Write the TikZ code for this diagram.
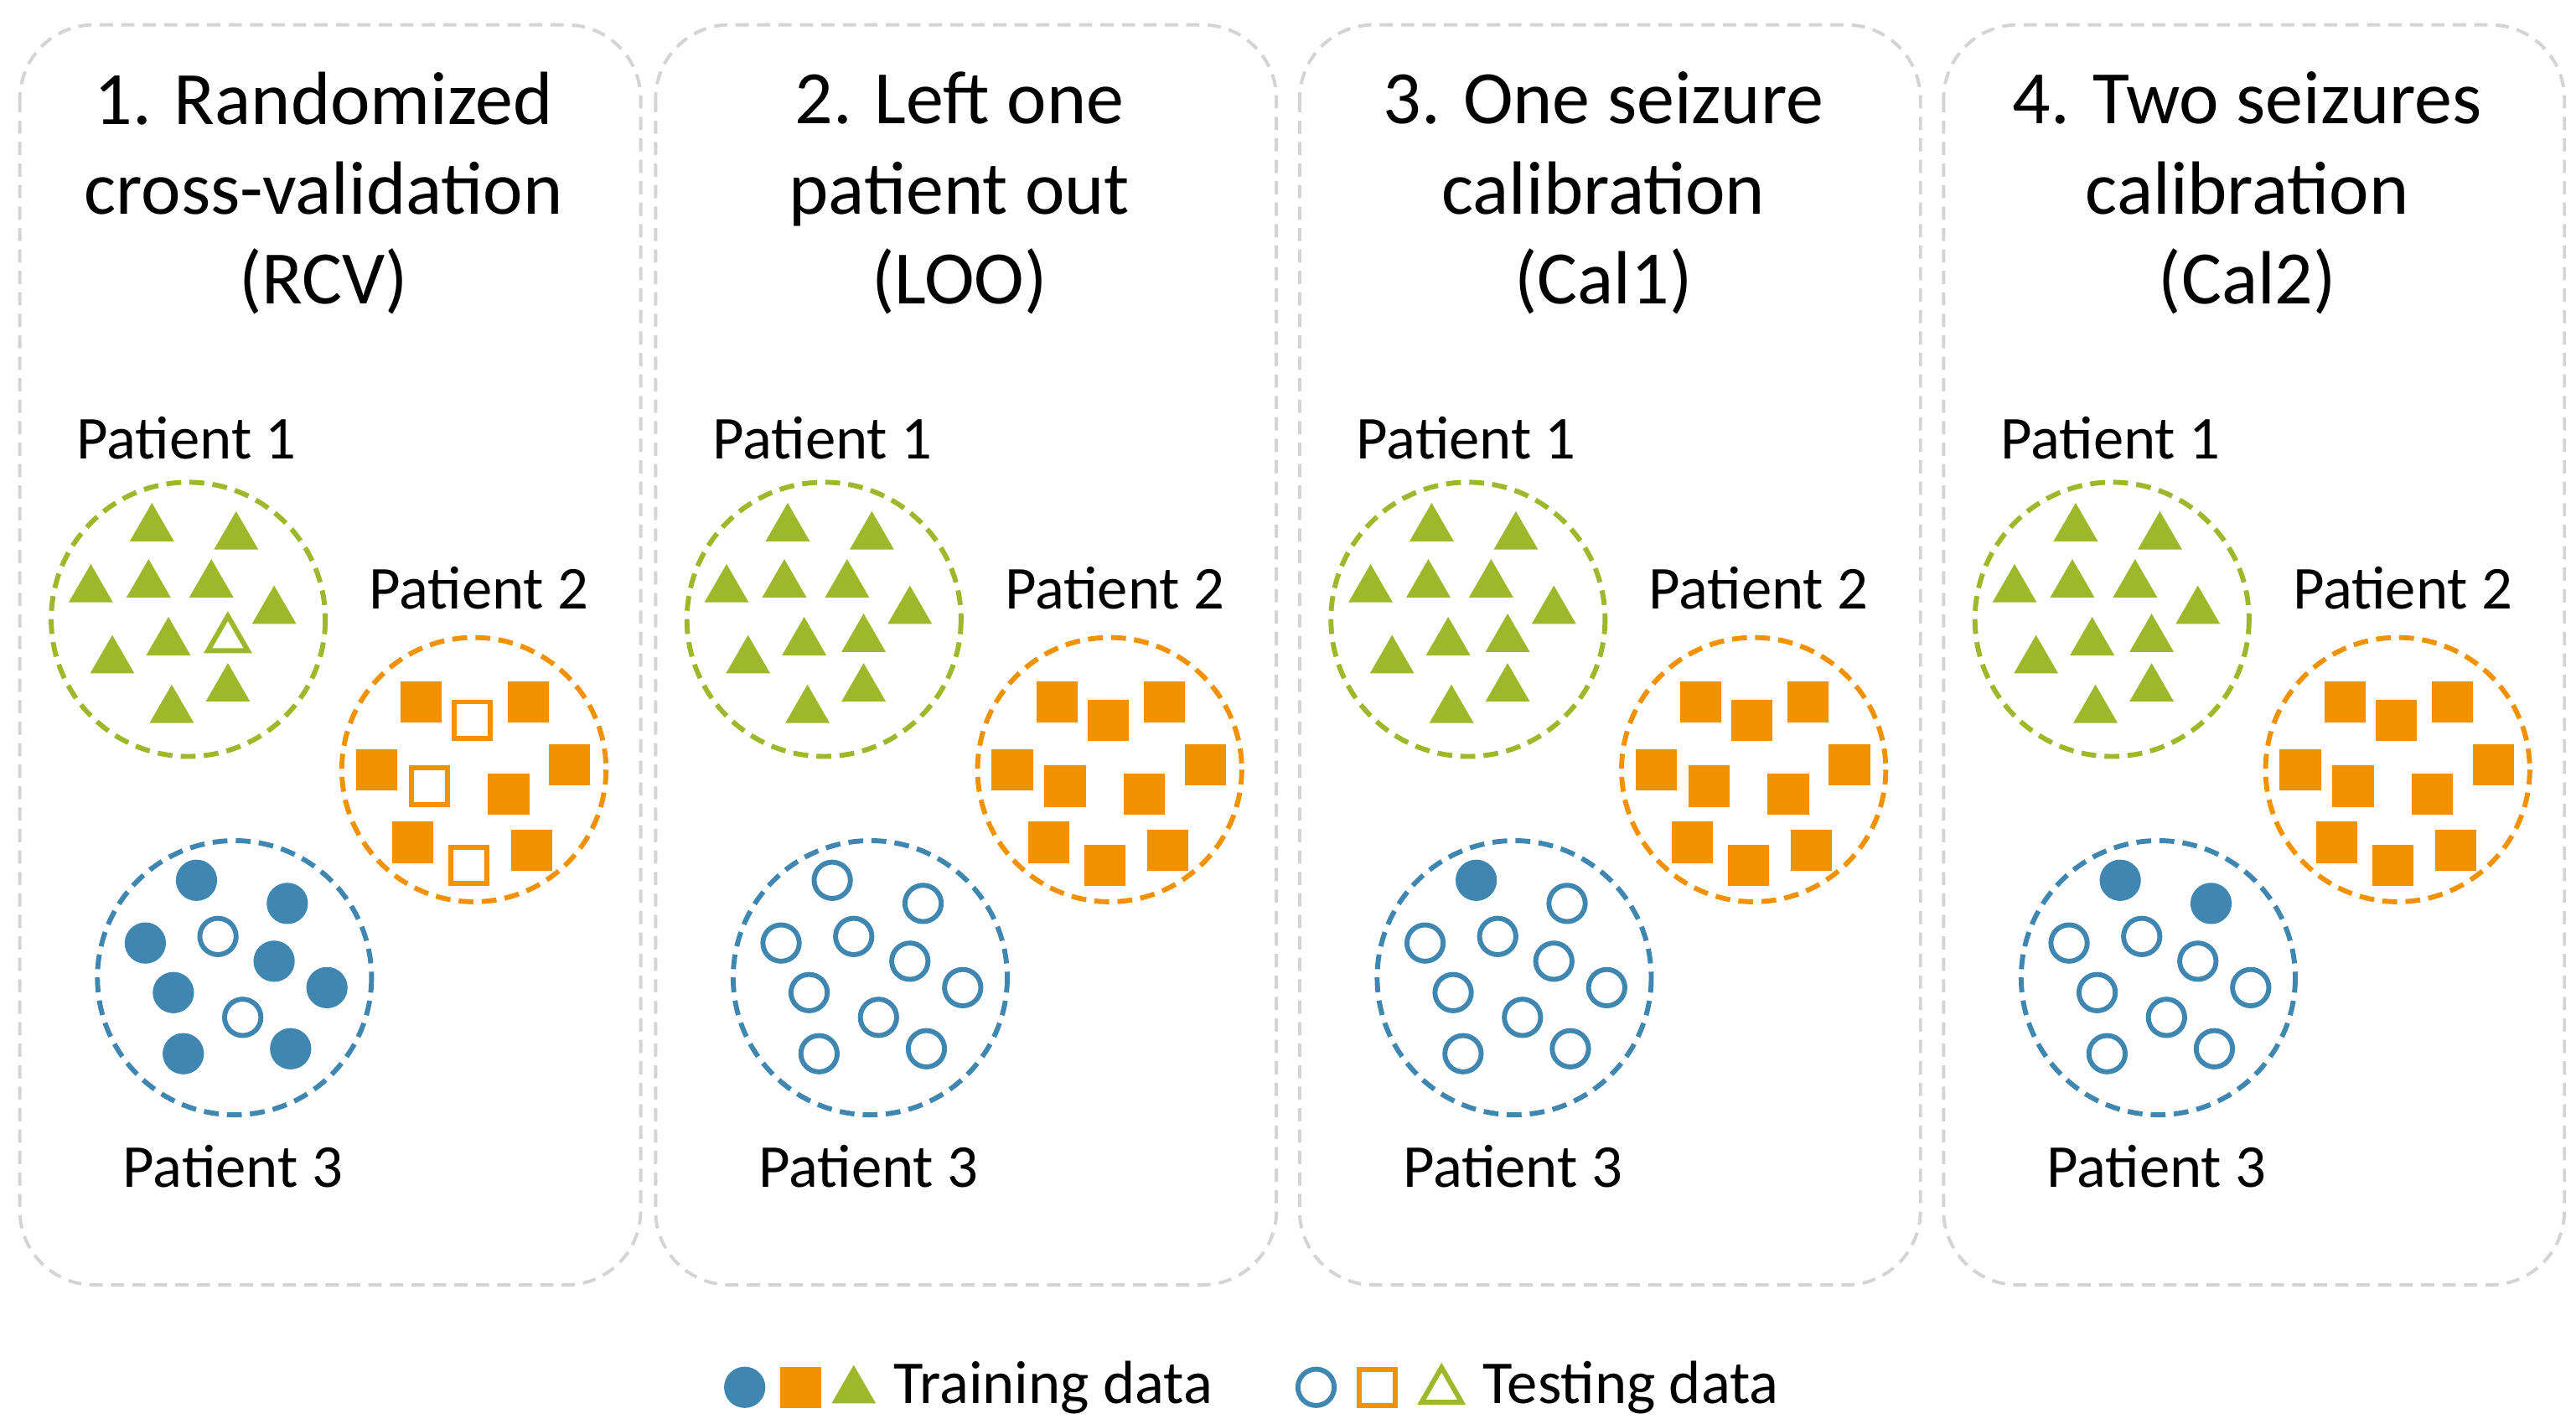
\documentclass[tikz,border=0pt]{standalone}
\usepackage{fontspec}
\setmainfont{Carlito}
\usetikzlibrary{shapes.geometric}
\definecolor{cg}{HTML}{9DB82B}
\definecolor{co}{HTML}{F39200}
\definecolor{cb}{HTML}{3F87B1}
\definecolor{cp}{HTML}{D4D4D4}
\begin{document}
\begin{tikzpicture}[x=0.02cm,y=-0.02cm,
 panel/.style={draw=cp,line width=0.04cm,dash pattern=on 0.16cm off 0.1cm,rounded corners=0.9cm},
 grp/.style={draw=#1,line width=0.06cm,dash pattern=on 0.18cm off 0.1cm},
 title/.style={font=\fontsize{26}{31}\selectfont,align=center},
 plab/.style={font=\fontsize{21}{25}\selectfont},
 triF/.style={regular polygon,regular polygon sides=3,fill=cg,minimum size=0.62cm,inner sep=0},
 triH/.style={regular polygon,regular polygon sides=3,draw=cg,line width=0.06cm,minimum size=0.56cm,inner sep=0},
 sqF/.style={rectangle,fill=co,minimum size=0.5cm,inner sep=0},
 sqH/.style={rectangle,draw=co,line width=0.06cm,minimum size=0.44cm,inner sep=0},
 ciF/.style={circle,fill=cb,minimum size=0.5cm,inner sep=0},
 ciH/.style={circle,draw=cb,line width=0.06cm,minimum size=0.44cm,inner sep=0}]
\useasboundingbox (0,0) rectangle (1560,862);
\foreach \p/\ox/\t/\sA/\sB/\sC/\sT/\sS in {
 1/0/{1. Randomized\\cross-validation\\(RCV)}/ciF/ciF/ciF/triH/sqH,
 2/385/{2. Left one\\patient out\\(LOO)}/ciH/ciH/ciH/triF/sqF,
 3/775/{3. One seizure\\calibration\\(Cal1)}/ciF/ciH/ciH/triF/sqF,
 4/1165/{4. Two seizures\\calibration\\(Cal2)}/ciF/ciF/ciH/triF/sqF}{
 \begin{scope}[xshift=\ox*0.02cm]
 \draw[panel] (12,15) rectangle (388,778);
 \node[title] (t\p) at (196,117) {\t};
 \node[plab] (pa\p) at (113,265) {Patient 1};
 \node[plab] (pb\p) at (290,356) {Patient 2};
 \node[plab] (pc\p) at (141,706) {Patient 3};
 \draw[grp=cg] (114,375) circle (83);
 \draw[grp=co] (287,466) circle (80);
 \draw[grp=cb] (142,592) circle (83);
 \foreach \x/\y in {92/320,143/325,55/357,90/354,128/354,166/370,68/400,102/389,104/430,138/417}
  \node[triF] at (\x,\y) {};
 \node[\sT] at (138,387) {};
 \foreach \x/\y in {255/425,320/425,228/466,345/463,308/481,250/510,322/515}
  \node[sqF] at (\x,\y) {};
 \foreach \x/\y in {286/436,260/476,284/524} \node[\sS] at (\x,\y) {};
 \node[\sA] at (119,533) {};
 \node[\sB] at (174,547) {};
 \foreach \x/\y in {88/571,166/582,105/601,198/598,111/638,176/635}
  \node[\sC] at (\x,\y) {};
 \foreach \x/\y in {132/567,147/616} \node[ciH] at (\x,\y) {};
 \end{scope}}
\node[ciF] (l1) at (451,840) {};
\node[sqF] (l2) at (485,840) {};
\node[triF] (l3) at (517,842) {};
\node[plab,anchor=west] (l4) at (535,840) {Training data};
\node[ciH] (m1) at (797,840) {};
\node[sqH] (m2) at (834,840) {};
\node[triH] (m3) at (873,842) {};
\node[plab,anchor=west] (m4) at (892,840) {Testing data};
\end{tikzpicture}
\end{document}
